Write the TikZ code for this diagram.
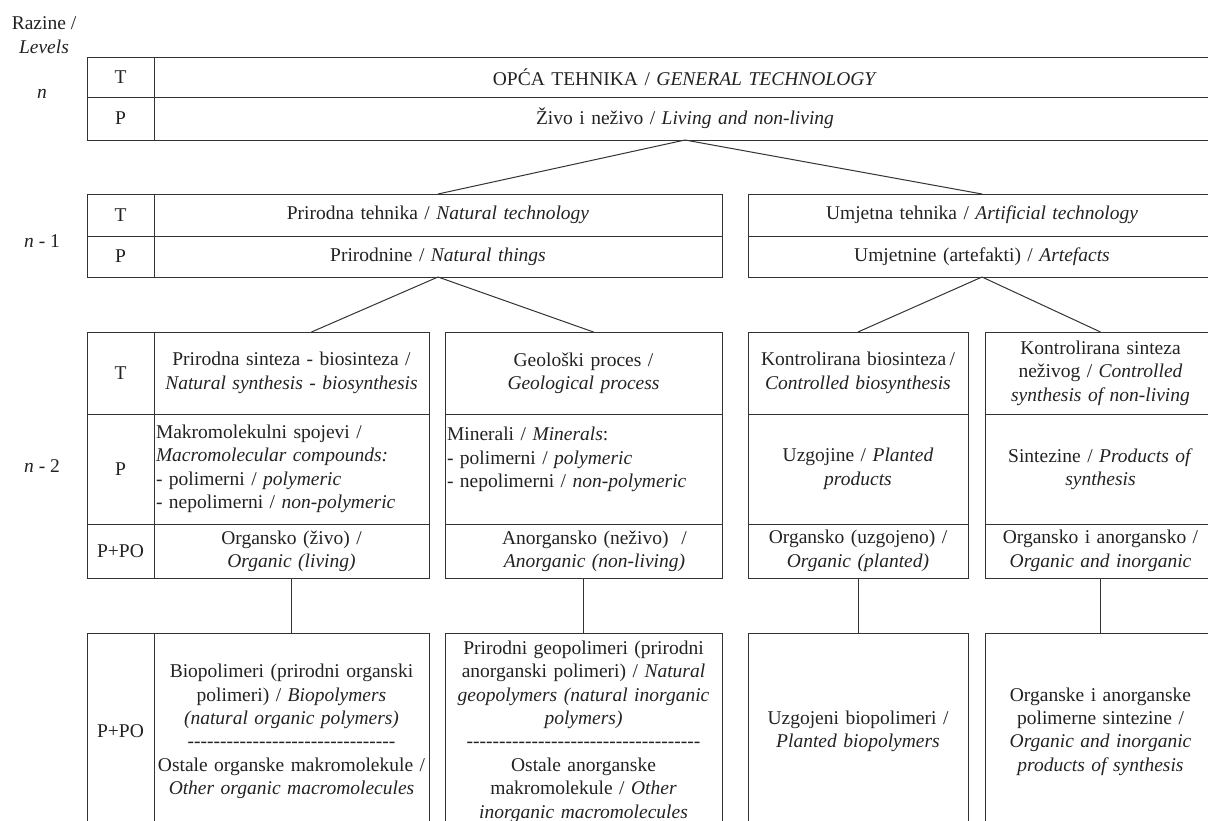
\documentclass[tikz,border=0pt]{standalone}
\usepackage{fontspec}
\setmainfont{Liberation Serif}
\usetikzlibrary{calc}
\definecolor{lc}{HTML}{333333}
\definecolor{tc}{HTML}{222222}
\newcommand\fs{\fontsize{19.5}{23.4}\selectfont}
\newcommand\hyrow[1]{\foreach \i in {1,...,#1}{\mbox{-}}}
\begin{document}
\begin{tikzpicture}[x=1pt,y=-1pt,
  cell/.style={draw=lc, line width=1pt, inner xsep=0pt, inner ysep=0pt, outer sep=0pt, anchor=north west, align=center, font=\fs, text=tc},
  lcell/.style={cell, align=left, inner xsep=2pt},
  lab/.style={font=\fs, text=tc, align=center, inner sep=0pt},
  conn/.style={draw=lc, line width=1pt}]
\useasboundingbox (0,0) rectangle (1208,820);
\clip (0,0) rectangle (1208,820);

% level labels
\node[lab] (lvl) at (44,35) {Razine /\\ \textit{Levels}};
\node[lab] (ln) at (42,94) {\textit{n}};
\node[lab] (ln1) at (42,241) {\textit{n} - 1};
\node[lab] (ln2) at (42,466) {\textit{n} - 2};

% level n
\node[cell, text width=67pt, minimum height=40pt] (nTl) at (87,57) {T};
\node[cell, text width=1062pt, minimum height=40pt] (nTc) at (154,57) {OPĆA TEHNIKA / \textit{GENERAL TECHNOLOGY}};
\node[cell, text width=67pt, minimum height=43pt] (nPl) at (87,97) {P};
\node[cell, text width=1062pt, minimum height=43pt] (nPc) at (154,97) {Živo i neživo / \textit{Living and non-living}};

% level n-1
\node[cell, text width=67pt, minimum height=42pt] (aTl) at (87,194) {T};
\node[cell, text width=568pt, minimum height=42pt] (aTc) at (154,194) {Prirodna tehnika / \textit{Natural technology}};
\node[cell, text width=67pt, minimum height=41pt] (aPl) at (87,236) {P};
\node[cell, text width=568pt, minimum height=41pt] (aPc) at (154,236) {Prirodnine / \textit{Natural things}};
\node[cell, text width=468pt, minimum height=42pt] (bTc) at (748,194) {Umjetna tehnika / \textit{Artificial technology}};
\node[cell, text width=468pt, minimum height=41pt] (bPc) at (748,236) {Umjetnine (artefakti) / \textit{Artefacts}};

% level n-2
\node[cell, text width=67pt, minimum height=82pt] (c1Tl) at (87,332) {T};
\node[cell, text width=275pt, minimum height=82pt] (c1Tc) at (154,332) {Prirodna sinteza - biosinteza /\\ \textit{Natural synthesis - biosynthesis}};
\node[cell, text width=67pt, minimum height=110pt] (c1Pl) at (87,414) {P};
\node[lcell, text width=271pt, minimum height=110pt] (c1Pc) at (154,414) {Makromolekulni spojevi /\\ \textit{Macromolecular compounds:}\\ - polimerni / \textit{polymeric}\\ - nepolimerni / \textit{non-polymeric}};
\node[cell, text width=67pt, minimum height=54pt] (c1Ol) at (87,524) {P+PO};
\node[cell, text width=275pt, minimum height=54pt] (c1Oc) at (154,524) {Organsko (živo) /\\ \textit{Organic (living)}};

\node[cell, text width=277pt, minimum height=82pt] (c2T) at (445,332) {Geološki proces /\\ \textit{Geological process}};
\node[lcell, text width=273pt, minimum height=110pt] (c2P) at (445,414) {Minerali / \textit{Minerals}:\\ - polimerni / \textit{polymeric}\\ - nepolimerni / \textit{non-polymeric}\\ \mbox{}};
\node[cell, text width=277pt, minimum height=54pt] (c2O) at (445,524) {\hspace*{22pt}Anorgansko (neživo) \ /\\ \hspace*{22pt}\textit{Anorganic (non-living)}};

\node[cell, text width=220pt, minimum height=82pt] (c3T) at (748,332) {Kontrolirana biosinteza\,/\\ \textit{Controlled biosynthesis}};
\node[cell, text width=220pt, minimum height=110pt] (c3P) at (748,414) {Uzgojine / \textit{Planted}\\ \textit{products}};
\node[cell, text width=220pt, minimum height=54pt] (c3O) at (748,524) {Organsko (uzgojeno) /\\ \textit{Organic (planted)}};

\node[cell, text width=231pt, minimum height=82pt] (c4T) at (985,332) {Kontrolirana sinteza\\ neživog / \textit{Controlled}\\ \textit{synthesis of non-living}};
\node[cell, text width=231pt, minimum height=110pt] (c4P) at (985,414) {Sintezine / \textit{Products of}\\ \textit{synthesis}};
\node[cell, text width=231pt, minimum height=54pt] (c4O) at (985,524) {Organsko i anorgansko /\\ \textit{Organic and inorganic}};

% bottom level
\node[cell, text width=67pt, minimum height=197pt] (d1l) at (87,633) {P+PO};
\node[cell, text width=275pt, minimum height=197pt] (d1c) at (154,633) {Biopolimeri (prirodni organski\\ polimeri) / \textit{Biopolymers}\\ \textit{(natural organic polymers)}\\ \hyrow{32}\\ Ostale organske makromolekule /\\ \textit{Other organic macromolecules}};
\node[cell, text width=277pt, minimum height=197pt] (d2) at (445,633) {Prirodni geopolimeri (prirodni\\ anorganski polimeri) / \textit{Natural}\\ \textit{geopolymers (natural inorganic}\\ \textit{polymers)}\\ \hyrow{36}\\ Ostale anorganske\\ makromolekule / \textit{Other}\\ \textit{inorganic macromolecules}};
\node[cell, text width=220pt, minimum height=197pt] (d3) at (748,633) {Uzgojeni biopolimeri /\\ \textit{Planted biopolymers}};
\node[cell, text width=231pt, minimum height=197pt] (d4) at (985,633) {Organske i anorganske\\ polimerne sintezine /\\ \textit{Organic and inorganic}\\ \textit{products of synthesis}};

% connectors
\draw[conn] (nPc.south) -- (aTc.north);
\draw[conn] (nPc.south) -- (bTc.north);
\draw[conn] (aPc.south) -- ($(c1Tc.north)+(20,0)$);
\draw[conn] (aPc.south) -- ($(c2T.north)+(10,0)$);
\draw[conn] (bPc.south) -- (c3T.north);
\draw[conn] (bPc.south) -- (c4T.north);
\draw[conn] (c1Oc.south) -- (d1c.north);
\draw[conn] (c2O.south) -- (d2.north);
\draw[conn] (c3O.south) -- (d3.north);
\draw[conn] (c4O.south) -- (d4.north);
\end{tikzpicture}
\end{document}
